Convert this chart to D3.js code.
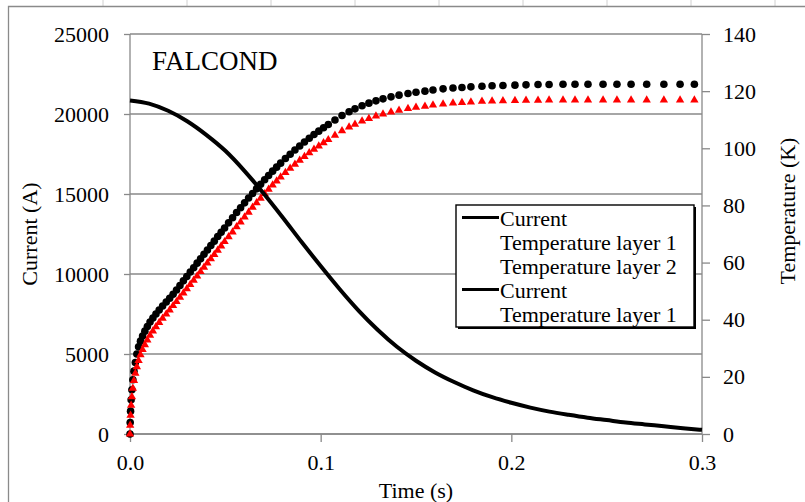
<!DOCTYPE html>
<html>
<head>
<meta charset="utf-8">
<script src="https://cdn.jsdelivr.net/npm/d3@7"></script>
<style>
  html, body { margin: 0; padding: 0; background: #fff; }
  svg { display: block; }
  text { font-family: "Liberation Serif", "Times New Roman", serif; fill: #000; }
</style>
</head>
<body>
<svg id="chart" width="805" height="502"></svg>
<script>
// Coil current (A), sampled every 10 ms
const currentTime = [0, 0.01, 0.02, 0.03, 0.04, 0.05, 0.06, 0.07, 0.08, 0.09, 0.10,
  0.11, 0.12, 0.13, 0.14, 0.15, 0.16, 0.17, 0.18, 0.19, 0.20,
  0.21, 0.22, 0.23, 0.24, 0.25, 0.26, 0.27, 0.28, 0.29, 0.30];
const currentA = [20850, 20650, 20200, 19550, 18700, 17700, 16450, 15050, 13550, 12000, 10500,
  9050, 7700, 6500, 5450, 4580, 3850, 3250, 2730, 2300, 1950,
  1650, 1400, 1200, 1020, 870, 720, 600, 480, 360, 260];

// Solver output times for the winding temperatures (s)
const tempTime = [0, 0.0001, 0.0003, 0.0006, 0.001, 0.0015, 0.0021, 0.0028, 0.0036, 0.0045,
  0.0055, 0.0066, 0.0078, 0.0091, 0.0105, 0.012, 0.0136, 0.0153, 0.0171, 0.019,
  0.0208, 0.0226, 0.0244, 0.0262, 0.028, 0.0298, 0.0316, 0.0334, 0.0352, 0.037,
  0.0388, 0.0406, 0.0424, 0.0442, 0.046, 0.0478, 0.0496,
  0.0517, 0.0538, 0.0559, 0.058, 0.0601, 0.0622, 0.0643, 0.0664, 0.0685, 0.0706,
  0.0727, 0.0748, 0.0769, 0.079,
  0.0815, 0.084, 0.0865, 0.089, 0.0915, 0.094, 0.0965, 0.099, 0.1015, 0.104, 0.1075,
  0.1112, 0.1149, 0.118, 0.1217, 0.1253, 0.129, 0.1327, 0.1369, 0.1411, 0.1458,
  0.15, 0.1547, 0.1589, 0.1642, 0.1694, 0.1741, 0.1788, 0.1846, 0.1899, 0.1956,
  0.2019, 0.2077, 0.214, 0.2198, 0.2271, 0.2334, 0.2402, 0.2481, 0.2554, 0.2628,
  0.271, 0.28, 0.2885, 0.296];
// Temperature of layer 1 (K)
const tempLayer1 = [0, 4, 8, 12, 15.5, 19, 22, 25, 28, 30.5,
  32.5, 34.3, 36, 37.6, 39.2, 40.6, 42, 43.4, 44.8, 46.2,
  47.5, 48.9, 50.4, 52.0, 53.6, 55.1, 56.7, 58.2, 59.8, 61.3,
  62.9, 64.4, 66.0, 67.5, 69.1, 70.6, 72.1,
  73.9, 75.7, 77.5, 79.2, 80.9, 82.6, 84.2, 85.8, 87.4, 89.0,
  90.5, 92.0, 93.4, 94.8,
  96.4, 97.9, 99.4, 100.8, 102.2, 103.5, 104.8, 106.0, 107.2, 108.3, 109.9,
  111.5, 112.8, 113.8, 114.9, 115.8, 116.6, 117.3, 118, 118.6, 119.2,
  119.6, 120, 120.4, 120.8, 121.1, 121.3, 121.5, 121.7, 121.9, 122,
  122.1, 122.2, 122.3, 122.3, 122.4, 122.4, 122.4, 122.4, 122.4, 122.4,
  122.4, 122.4, 122.4, 122.4];
// Temperature of layer 2 (K)
const tempLayer2 = [0, 3, 6.5, 10, 13, 16, 18.7, 21.2, 23.5, 25.7,
  27.7, 29.5, 31.2, 32.9, 34.5, 36, 37.5, 39, 40.5, 42,
  43.4, 44.9, 46.3, 47.8, 49.3, 50.8, 52.3, 53.8, 55.3, 56.8,
  58.3, 59.8, 61.3, 62.8, 64.3, 65.8, 67.3,
  69.0, 70.7, 72.5, 74.2, 75.9, 77.6, 79.3, 80.9, 82.5, 84.1,
  85.6, 87.1, 88.5, 89.9,
  91.5, 93.0, 94.4, 95.8, 97.1, 98.4, 99.6, 100.8, 101.9, 103.0, 104.5,
  106.1, 107.4, 108.4, 109.5, 110.4, 111.3, 112, 112.7, 113.3, 113.9,
  114.3, 114.7, 115.1, 115.5, 115.8, 116, 116.2, 116.4, 116.5, 116.6,
  116.7, 116.8, 116.8, 116.9, 116.9, 116.9, 116.9, 116.9, 116.9, 116.9,
  116.9, 116.9, 116.9, 116.9];

const xTicks = [0, 0.1, 0.2, 0.3];
const currentTicks = [0, 5000, 10000, 15000, 20000, 25000];
const tempTicks = [0, 20, 40, 60, 80, 100, 120, 140];
const legendItems = [
  { label: "Current", line: true },
  { label: "Temperature layer 1", line: false },
  { label: "Temperature layer 2", line: false },
  { label: "Current", line: true },
  { label: "Temperature layer 1", line: false }
];

const svg = d3.select("#chart");
const plot = { left: 130, right: 702, top: 34, bottom: 434 };
const fontSize = 22;
const gridGrey = "#898989";

const x = d3.scaleLinear().domain([0, 0.3]).range([plot.left, plot.right]);
const yCur = d3.scaleLinear().domain([0, 25000]).range([plot.bottom, plot.top]);
const yTemp = d3.scaleLinear().domain([0, 140]).range([plot.bottom, plot.top]);

// worksheet cell lines peeking above the chart frame
const cellLines = [103, 187, 271, 355, 439, 523, 607, 691, 775];
svg.selectAll(".cell").data(cellLines).enter().append("line")
  .attr("x1", d => d).attr("x2", d => d).attr("y1", 0).attr("y2", 6)
  .attr("stroke", "#d0d0d0").attr("stroke-width", 1);

// chart frame
svg.append("path")
  .attr("d", "M8.5,502 V6.5 H805")
  .attr("fill", "none").attr("stroke", "#8a8a8a").attr("stroke-width", 1.3);

// horizontal gridlines
svg.append("g").selectAll("line").data(currentTicks).enter().append("line")
  .attr("x1", plot.left).attr("x2", plot.right)
  .attr("y1", d => yCur(d)).attr("y2", d => yCur(d))
  .attr("stroke", gridGrey).attr("stroke-width", 1.3);

// axes
const axisLeft = d3.axisLeft(yCur).tickValues(currentTicks).tickSize(6).tickPadding(15)
  .tickFormat(d3.format("d"));
const axisRight = d3.axisRight(yTemp).tickValues(tempTicks).tickSize(8).tickPadding(13)
  .tickFormat(d3.format("d"));
const axisBottom = d3.axisBottom(x).tickValues(xTicks).tickSize(8).tickPadding(12)
  .tickFormat(d3.format(".1f"));

function styleAxis(g) {
  g.select(".domain").attr("stroke", gridGrey).attr("stroke-width", 1.3);
  g.selectAll(".tick line").attr("stroke", gridGrey).attr("stroke-width", 1.3);
  g.selectAll(".tick text").attr("font-size", fontSize)
    .attr("font-family", "'Liberation Serif', 'Times New Roman', serif").attr("fill", "#000");
}
svg.append("g").attr("transform", `translate(${plot.left},0)`).call(axisLeft).call(styleAxis)
  .select(".domain").attr("d", `M0,${plot.top}V${plot.bottom}`);
svg.append("g").attr("transform", `translate(${plot.right},0)`).call(axisRight).call(styleAxis)
  .select(".domain").attr("d", `M0,${plot.top}V${plot.bottom}`);
svg.append("g").attr("transform", `translate(0,${plot.bottom})`).call(axisBottom).call(styleAxis)
  .select(".domain").attr("d", `M${plot.left},0H${plot.right}`);

// axis titles
svg.append("text").attr("transform", `translate(37,${(plot.top + plot.bottom) / 2}) rotate(-90)`)
  .attr("text-anchor", "middle").attr("font-size", fontSize).text("Current (A)");
svg.append("text").attr("transform", `translate(795,211) rotate(-90)`)
  .attr("text-anchor", "middle").attr("font-size", fontSize).text("Temperature (K)");
svg.append("text").attr("x", (plot.left + plot.right) / 2).attr("y", 498)
  .attr("text-anchor", "middle").attr("font-size", fontSize).text("Time (s)");

// chart label
svg.append("text").attr("x", 152).attr("y", 70).attr("font-size", 27).text("FALCOND");

// temperature markers
const layer1 = tempTime.map((t, i) => ({ t, v: tempLayer1[i] }));
const layer2 = tempTime.map((t, i) => ({ t, v: tempLayer2[i] }));

svg.append("g").selectAll("circle").data(layer1).enter().append("circle")
  .attr("cx", d => x(d.t)).attr("cy", d => yTemp(d.v)).attr("r", 3.8).attr("fill", "#000");

const tri = d3.symbol().type(d3.symbolTriangle).size(30);
svg.append("g").selectAll("path").data(layer2).enter().append("path")
  .attr("d", tri).attr("transform", d => `translate(${x(d.t)},${yTemp(d.v)})`)
  .attr("fill", "#ff0000");

// current trace
const currentData = currentTime.map((t, i) => ({ t, v: currentA[i] }));
svg.append("path").datum(currentData)
  .attr("d", d3.line().x(d => x(d.t)).y(d => yCur(d.v)).curve(d3.curveMonotoneX))
  .attr("fill", "none").attr("stroke", "#000").attr("stroke-width", 4)
  .attr("stroke-linejoin", "round");

// legend
const lg = { x: 456, y: 205, w: 238, h: 122 };
const legend = svg.append("g");
legend.append("rect").attr("x", lg.x + 2).attr("y", lg.y + 2).attr("width", lg.w).attr("height", lg.h)
  .attr("fill", "#000");
legend.append("rect").attr("x", lg.x).attr("y", lg.y).attr("width", lg.w).attr("height", lg.h)
  .attr("fill", "#fff").attr("stroke", "#000").attr("stroke-width", 1.4);
const rows = legend.selectAll(".row").data(legendItems).enter().append("g")
  .attr("transform", (d, i) => `translate(0,${225.5 + i * 24})`);
rows.filter(d => d.line).append("line")
  .attr("x1", 462).attr("x2", 499).attr("y1", -8).attr("y2", -8)
  .attr("stroke", "#000").attr("stroke-width", 3);
rows.append("text").attr("x", 500).attr("y", 0).attr("font-size", fontSize).text(d => d.label);
</script>
</body>
</html>
